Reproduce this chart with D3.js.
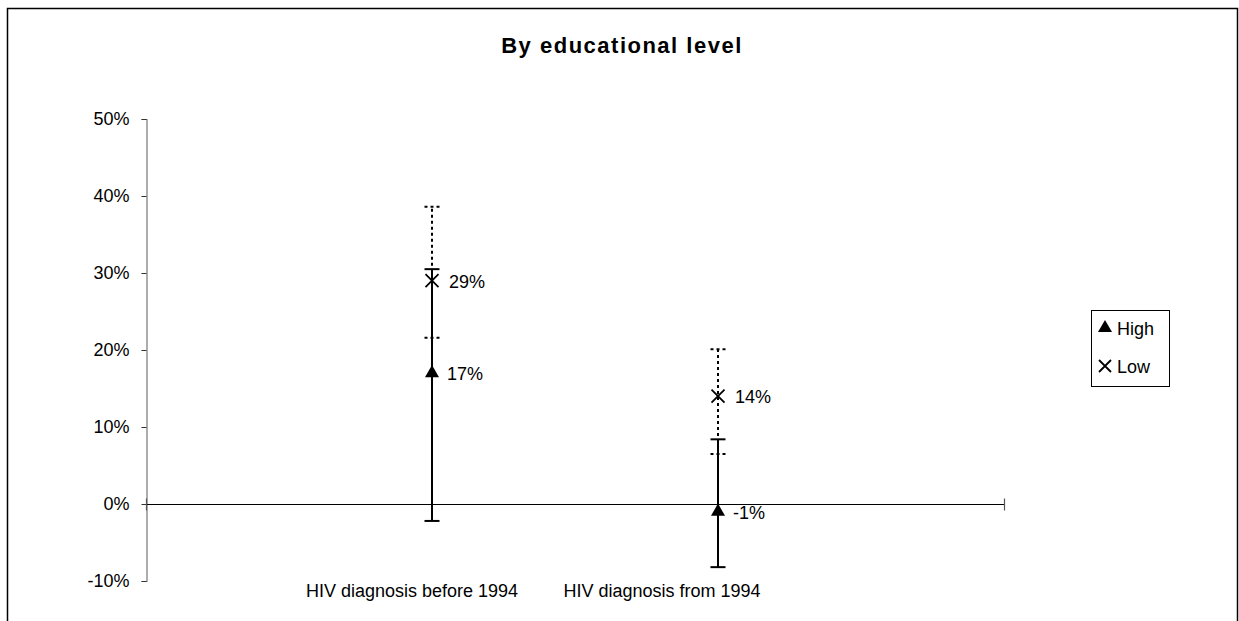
<!DOCTYPE html>
<html>
<head>
<meta charset="utf-8">
<script src="https://cdn.jsdelivr.net/npm/d3@7"></script>
<style>
  body { margin: 0; background: #fff; }
  svg { display: block; font-family: "Liberation Sans", Arial, sans-serif; }
</style>
</head>
<body>
<div id="chart"></div>
<script>
// data (values in %)
var categories = ['HIV diagnosis before 1994', 'HIV diagnosis from 1994'];
var highValues = [17, -1];
var highLower = [-2.2, -8.2];
var highUpper = [30.5, 8.4];
var lowValues = [29, 14];
var lowLower = [21.6, 6.5];
var lowUpper = [38.6, 20.1];
var yTicks = [-10, 0, 10, 20, 30, 40, 50];
var seriesNames = ['High', 'Low'];

var width = 1239, height = 621;
var labelShift = [-20, -56];
var fontSize = 18;

var svg = d3.select('#chart').append('svg')
  .attr('width', width)
  .attr('height', height);

// chart frame (bottom runs off the page)
svg.append('rect')
  .attr('x', 7.5).attr('y', 8.5)
  .attr('width', 1230).attr('height', 640)
  .attr('fill', 'none')
  .attr('stroke', '#000')
  .attr('stroke-width', 1.5);

svg.append('text')
  .attr('x', 622).attr('y', 53)
  .attr('text-anchor', 'middle')
  .attr('font-weight', 'bold')
  .attr('font-size', 22)
  .attr('letter-spacing', 1.5)
  .text('By educational level');

var x = d3.scaleLinear().domain([0, categories.length + 1]).range([146, 1004]);
var y = d3.scaleLinear().domain([-10, 50]).range([581, 119]);

// y axis
var yAxis = svg.append('g')
  .attr('transform', 'translate(146.5,0)')
  .call(d3.axisLeft(y).tickValues(yTicks).tickSize(5).tickPadding(12)
    .tickFormat(function(d) { return d + '%'; }));
yAxis.select('.domain').attr('stroke', '#777').attr('stroke-width', 1.2);
yAxis.selectAll('.tick line').attr('stroke', '#333');
yAxis.selectAll('.tick text').attr('font-size', fontSize).attr('fill', '#000')
  .attr('font-family', '"Liberation Sans", Arial, sans-serif');

// x axis at 0%
var xAxis = svg.append('g').attr('transform', 'translate(0,' + (Math.round(y(0)) + 0.5) + ')');
xAxis.append('line')
  .attr('x1', x(0)).attr('x2', x(categories.length + 1))
  .attr('stroke', '#000').attr('stroke-width', 1.2);
[0, categories.length + 1].forEach(function(v) {
  xAxis.append('line')
    .attr('x1', x(v) + 0.5).attr('x2', x(v) + 0.5)
    .attr('y1', -6).attr('y2', 6)
    .attr('stroke', '#555').attr('stroke-width', 1.2);
});

// category labels
svg.selectAll('.cat-label')
  .data(categories)
  .enter().append('text')
  .attr('class', 'cat-label')
  .attr('x', function(d, i) { return x(i + 1) + labelShift[i]; })
  .attr('y', 597)
  .attr('text-anchor', 'middle')
  .attr('font-size', fontSize)
  .text(function(d) { return d; });

function errorBars(lower, upper, dash) {
  var g = svg.append('g');
  categories.forEach(function(c, i) {
    var cx = x(i + 1);
    g.append('line')
      .attr('x1', cx).attr('x2', cx)
      .attr('y1', y(lower[i])).attr('y2', y(upper[i]))
      .attr('stroke', '#000').attr('stroke-width', 2)
      .attr('stroke-dasharray', dash);
    [lower[i], upper[i]].forEach(function(v) {
      g.append('line')
        .attr('x1', cx - 7.5).attr('x2', cx + 7.5)
        .attr('y1', y(v)).attr('y2', y(v))
        .attr('stroke', '#000').attr('stroke-width', 2)
        .attr('stroke-dasharray', dash);
    });
  });
}

errorBars(lowLower, lowUpper, '3,3');
errorBars(highLower, highUpper, null);

var triangle = d3.symbol().type(d3.symbolTriangle).size(85);

function drawX(g, cx, cy, r) {
  g.append('path')
    .attr('d', 'M' + (cx - r) + ',' + (cy - r) + 'L' + (cx + r) + ',' + (cy + r) +
               'M' + (cx - r) + ',' + (cy + r) + 'L' + (cx + r) + ',' + (cy - r))
    .attr('stroke', '#000').attr('stroke-width', 1.8).attr('fill', 'none');
}

// markers
var markers = svg.append('g');
categories.forEach(function(c, i) {
  var cx = x(i + 1);
  markers.append('path')
    .attr('d', triangle)
    .attr('transform', 'translate(' + cx + ',' + y(highValues[i]) + ')')
    .attr('fill', '#000');
  drawX(markers, cx, y(lowValues[i]), 6.5);

  markers.append('text')
    .attr('x', cx + 15).attr('y', y(highValues[i]) + 7)
    .attr('font-size', fontSize)
    .text(highValues[i] + '%');
  markers.append('text')
    .attr('x', cx + 17).attr('y', y(lowValues[i]) + 7)
    .attr('font-size', fontSize)
    .text(lowValues[i] + '%');
});

// legend
var legend = svg.append('g').attr('transform', 'translate(1091,310)');
legend.append('rect')
  .attr('x', 0.5).attr('y', 0.5)
  .attr('width', 78).attr('height', 76)
  .attr('fill', '#fff').attr('stroke', '#000').attr('stroke-width', 1);
seriesNames.forEach(function(name, i) {
  var ly = 18 + i * 38;
  if (i === 0) {
    legend.append('path').attr('d', triangle)
      .attr('transform', 'translate(14,' + ly + ')').attr('fill', '#000');
  } else {
    drawX(legend, 14, ly, 6);
  }
  legend.append('text')
    .attr('x', 26).attr('y', ly + 7)
    .attr('font-size', fontSize)
    .text(name);
});
</script>
</body>
</html>
